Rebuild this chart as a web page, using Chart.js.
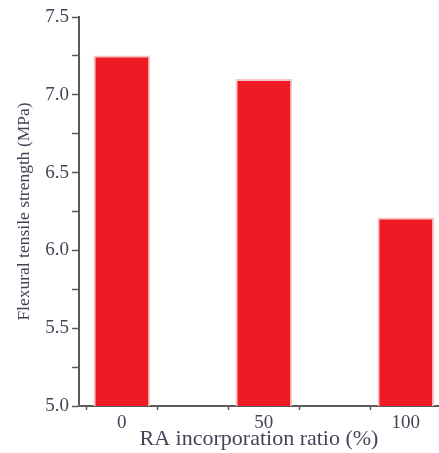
<!DOCTYPE html>
<html>
<head>
<meta charset="utf-8">
<script src="https://cdn.jsdelivr.net/npm/chart.js@4.4.0/dist/chart.umd.min.js"></script>
<style>
  html, body { margin: 0; padding: 0; background: #fff; }
  #wrap { width: 439px; height: 453px; }
</style>
</head>
<body>
<div id="wrap"><canvas id="c" width="439" height="453"></canvas></div>
<script>
const ratios = [0, 50, 100];
const strength = [7.25, 7.10, 6.21];
const xTicks = [0, 25, 50, 75, 100];
const xLabels = ['0', '', '50', '', '100'];
const yTicks = [5.0, 5.25, 5.5, 5.75, 6.0, 6.25, 6.5, 6.75, 7.0, 7.25, 7.5];
const yLabels = ['5.0', '', '5.5', '', '6.0', '', '6.5', '', '7.0', '', '7.5'];

const textColor = '#414656';
const axisColor = '#5a5a5a';
const tickFont = { family: 'Liberation Serif', size: 19 };

const ctx = document.getElementById('c').getContext('2d');
new Chart(ctx, {
    type: 'bar',
    data: {
        datasets: [{
            data: ratios.map((r, i) => ({ x: r, y: strength[i] })),
            backgroundColor: '#ed1c24',
            borderColor: '#f9c4c6',
            borderWidth: 2,
            borderSkipped: 'bottom',
            barThickness: 56
        }]
    },
    options: {
        responsive: false,
        animation: false,
        layout: { padding: { top: 17, right: 0, left: 0, bottom: 0 } },
        plugins: { legend: { display: false }, tooltip: { enabled: false } },
        scales: {
            x: {
                type: 'linear',
                offset: false,
                min: -15.1,
                max: 111.7,
                afterBuildTicks: s => { s.ticks = xTicks.map(v => ({ value: v })); },
                afterFit: s => { s.height = 47; },
                ticks: {
                    callback: (v, i) => xLabels[i],
                    color: textColor,
                    font: tickFont,
                    padding: 2,
                    maxRotation: 0,
                    autoSkip: false
                },
                grid: { drawOnChartArea: false, tickLength: 4, tickColor: axisColor, tickWidth: 1.5 },
                border: { color: axisColor, width: 2 },
                title: {
                    display: true,
                    text: 'RA incorporation ratio (%)',
                    color: textColor,
                    font: { family: 'Liberation Serif', size: 22 },
                    padding: { top: 0, bottom: 1 }
                }
            },
            y: {
                min: 5.0,
                max: 7.5,
                afterBuildTicks: s => { s.ticks = yTicks.map(v => ({ value: v })); },
                afterFit: s => { s.width = 79; },
                ticks: {
                    callback: (v, i) => yLabels[i],
                    color: textColor,
                    font: tickFont,
                    padding: 3,
                    autoSkip: false
                },
                grid: { drawOnChartArea: false, tickLength: 7, tickColor: axisColor, tickWidth: 1.5 },
                border: { color: axisColor, width: 2 },
                title: {
                    display: true,
                    text: 'Flexural tensile strength (MPa)',
                    color: textColor,
                    font: { family: 'Liberation Serif', size: 17.5 },
                    padding: { top: 14, bottom: 0 }
                }
            }
        }
    }
});
</script>
</body>
</html>
